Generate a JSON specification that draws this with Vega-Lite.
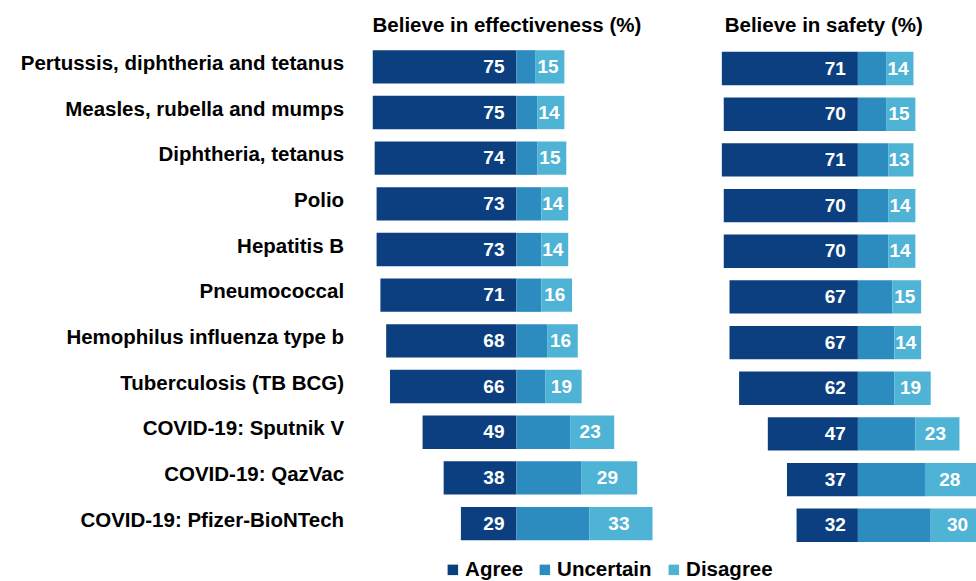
{
  "$schema": "https://vega.github.io/schema/vega-lite/v6.json",
  "padding": {"left": 19.6, "top": 16, "right": 0, "bottom": 0},
  "background": "white",
  "config": {"view": {"stroke": null}, "font": "Liberation Sans", "concat": {"spacing": 44}},
  "spacing": 44,
  "datasets": {
    "survey": [
      {"measure": "Effectiveness", "vaccine": "Pertussis, diphtheria and tetanus", "response": "Agree", "value": 75},
      {"measure": "Effectiveness", "vaccine": "Pertussis, diphtheria and tetanus", "response": "Uncertain", "value": 10},
      {"measure": "Effectiveness", "vaccine": "Pertussis, diphtheria and tetanus", "response": "Disagree", "value": 15},
      {"measure": "Effectiveness", "vaccine": "Measles, rubella and mumps", "response": "Agree", "value": 75},
      {"measure": "Effectiveness", "vaccine": "Measles, rubella and mumps", "response": "Uncertain", "value": 11},
      {"measure": "Effectiveness", "vaccine": "Measles, rubella and mumps", "response": "Disagree", "value": 14},
      {"measure": "Effectiveness", "vaccine": "Diphtheria, tetanus", "response": "Agree", "value": 74},
      {"measure": "Effectiveness", "vaccine": "Diphtheria, tetanus", "response": "Uncertain", "value": 11},
      {"measure": "Effectiveness", "vaccine": "Diphtheria, tetanus", "response": "Disagree", "value": 15},
      {"measure": "Effectiveness", "vaccine": "Polio", "response": "Agree", "value": 73},
      {"measure": "Effectiveness", "vaccine": "Polio", "response": "Uncertain", "value": 13},
      {"measure": "Effectiveness", "vaccine": "Polio", "response": "Disagree", "value": 14},
      {"measure": "Effectiveness", "vaccine": "Hepatitis B", "response": "Agree", "value": 73},
      {"measure": "Effectiveness", "vaccine": "Hepatitis B", "response": "Uncertain", "value": 13},
      {"measure": "Effectiveness", "vaccine": "Hepatitis B", "response": "Disagree", "value": 14},
      {"measure": "Effectiveness", "vaccine": "Pneumococcal", "response": "Agree", "value": 71},
      {"measure": "Effectiveness", "vaccine": "Pneumococcal", "response": "Uncertain", "value": 13},
      {"measure": "Effectiveness", "vaccine": "Pneumococcal", "response": "Disagree", "value": 16},
      {"measure": "Effectiveness", "vaccine": "Hemophilus influenza type b", "response": "Agree", "value": 68},
      {"measure": "Effectiveness", "vaccine": "Hemophilus influenza type b", "response": "Uncertain", "value": 16},
      {"measure": "Effectiveness", "vaccine": "Hemophilus influenza type b", "response": "Disagree", "value": 16},
      {"measure": "Effectiveness", "vaccine": "Tuberculosis (TB BCG)", "response": "Agree", "value": 66},
      {"measure": "Effectiveness", "vaccine": "Tuberculosis (TB BCG)", "response": "Uncertain", "value": 15},
      {"measure": "Effectiveness", "vaccine": "Tuberculosis (TB BCG)", "response": "Disagree", "value": 19},
      {"measure": "Effectiveness", "vaccine": "COVID-19: Sputnik V", "response": "Agree", "value": 49},
      {"measure": "Effectiveness", "vaccine": "COVID-19: Sputnik V", "response": "Uncertain", "value": 28},
      {"measure": "Effectiveness", "vaccine": "COVID-19: Sputnik V", "response": "Disagree", "value": 23},
      {"measure": "Effectiveness", "vaccine": "COVID-19: QazVac", "response": "Agree", "value": 38},
      {"measure": "Effectiveness", "vaccine": "COVID-19: QazVac", "response": "Uncertain", "value": 34},
      {"measure": "Effectiveness", "vaccine": "COVID-19: QazVac", "response": "Disagree", "value": 29},
      {"measure": "Effectiveness", "vaccine": "COVID-19: Pfizer-BioNTech", "response": "Agree", "value": 29},
      {"measure": "Effectiveness", "vaccine": "COVID-19: Pfizer-BioNTech", "response": "Uncertain", "value": 38},
      {"measure": "Effectiveness", "vaccine": "COVID-19: Pfizer-BioNTech", "response": "Disagree", "value": 33},
      {"measure": "Safety", "vaccine": "Pertussis, diphtheria and tetanus", "response": "Agree", "value": 71},
      {"measure": "Safety", "vaccine": "Pertussis, diphtheria and tetanus", "response": "Uncertain", "value": 15},
      {"measure": "Safety", "vaccine": "Pertussis, diphtheria and tetanus", "response": "Disagree", "value": 14},
      {"measure": "Safety", "vaccine": "Measles, rubella and mumps", "response": "Agree", "value": 70},
      {"measure": "Safety", "vaccine": "Measles, rubella and mumps", "response": "Uncertain", "value": 15},
      {"measure": "Safety", "vaccine": "Measles, rubella and mumps", "response": "Disagree", "value": 15},
      {"measure": "Safety", "vaccine": "Diphtheria, tetanus", "response": "Agree", "value": 71},
      {"measure": "Safety", "vaccine": "Diphtheria, tetanus", "response": "Uncertain", "value": 16},
      {"measure": "Safety", "vaccine": "Diphtheria, tetanus", "response": "Disagree", "value": 13},
      {"measure": "Safety", "vaccine": "Polio", "response": "Agree", "value": 70},
      {"measure": "Safety", "vaccine": "Polio", "response": "Uncertain", "value": 16},
      {"measure": "Safety", "vaccine": "Polio", "response": "Disagree", "value": 14},
      {"measure": "Safety", "vaccine": "Hepatitis B", "response": "Agree", "value": 70},
      {"measure": "Safety", "vaccine": "Hepatitis B", "response": "Uncertain", "value": 16},
      {"measure": "Safety", "vaccine": "Hepatitis B", "response": "Disagree", "value": 14},
      {"measure": "Safety", "vaccine": "Pneumococcal", "response": "Agree", "value": 67},
      {"measure": "Safety", "vaccine": "Pneumococcal", "response": "Uncertain", "value": 18},
      {"measure": "Safety", "vaccine": "Pneumococcal", "response": "Disagree", "value": 15},
      {"measure": "Safety", "vaccine": "Hemophilus influenza type b", "response": "Agree", "value": 67},
      {"measure": "Safety", "vaccine": "Hemophilus influenza type b", "response": "Uncertain", "value": 19},
      {"measure": "Safety", "vaccine": "Hemophilus influenza type b", "response": "Disagree", "value": 14},
      {"measure": "Safety", "vaccine": "Tuberculosis (TB BCG)", "response": "Agree", "value": 62},
      {"measure": "Safety", "vaccine": "Tuberculosis (TB BCG)", "response": "Uncertain", "value": 19},
      {"measure": "Safety", "vaccine": "Tuberculosis (TB BCG)", "response": "Disagree", "value": 19},
      {"measure": "Safety", "vaccine": "COVID-19: Sputnik V", "response": "Agree", "value": 47},
      {"measure": "Safety", "vaccine": "COVID-19: Sputnik V", "response": "Uncertain", "value": 30},
      {"measure": "Safety", "vaccine": "COVID-19: Sputnik V", "response": "Disagree", "value": 23},
      {"measure": "Safety", "vaccine": "COVID-19: QazVac", "response": "Agree", "value": 37},
      {"measure": "Safety", "vaccine": "COVID-19: QazVac", "response": "Uncertain", "value": 35},
      {"measure": "Safety", "vaccine": "COVID-19: QazVac", "response": "Disagree", "value": 28},
      {"measure": "Safety", "vaccine": "COVID-19: Pfizer-BioNTech", "response": "Agree", "value": 32},
      {"measure": "Safety", "vaccine": "COVID-19: Pfizer-BioNTech", "response": "Uncertain", "value": 38},
      {"measure": "Safety", "vaccine": "COVID-19: Pfizer-BioNTech", "response": "Disagree", "value": 30}
    ]
  },
  "data": {"name": "survey"},
  "hconcat": [
    {
      "width": 306.6,
      "height": 502.4,
      "title": {"text": "Believe in effectiveness (%)", "fontSize": 20.5, "fontWeight": "bold", "color": "black", "offset": 7, "anchor": "middle"},
      "transform": [{"filter": "datum.measure === 'Effectiveness'"}],
      "encoding": {
        "y": {
          "field": "vaccine", "type": "nominal",
          "sort": ["Pertussis, diphtheria and tetanus", "Measles, rubella and mumps", "Diphtheria, tetanus", "Polio", "Hepatitis B", "Pneumococcal", "Hemophilus influenza type b", "Tuberculosis (TB BCG)", "COVID-19: Sputnik V", "COVID-19: QazVac", "COVID-19: Pfizer-BioNTech"],
          "scale": {"paddingInner": 0.27, "paddingOuter": 0.135},
          "axis": {"title": null, "domain": false, "ticks": false, "labelFontSize": 20.5, "labelFontWeight": "bold", "labelColor": "black", "labelPadding": 10, "labelLimit": 400, "labelOffset": -3}
        }
      },
      "layer": [
        {
          "transform": [{"filter": "datum.response === 'Agree'"}],
          "mark": {"type": "bar"},
          "encoding": {
            "x": {"field": "value", "type": "quantitative", "scale": {"domain": [-75, 85], "reverse": true, "nice": false, "zero": false}, "axis": null},
            "color": {"field": "response", "type": "nominal", "scale": {"domain": ["Agree", "Uncertain", "Disagree"], "range": ["#0b3f80", "#2c8cbf", "#4fb3d6"]},
              "legend": {"orient": "none", "legendX": 89, "legendY": 515.5, "direction": "horizontal", "title": null, "symbolType": "square", "symbolSize": 110, "symbolStrokeWidth": 0, "labelFontSize": 20.5, "labelFontWeight": "bold", "labelColor": "black", "labelOffset": 2, "columnPadding": 11}}
          }
        },
        {
          "transform": [{"filter": "datum.response === 'Agree'"}],
          "mark": {"type": "text", "align": "right", "dx": -12, "baseline": "middle", "fontSize": 19, "fontWeight": "bold", "color": "white"},
          "encoding": {
            "x": {"datum": 0, "type": "quantitative", "scale": {"domain": [-85, 75], "nice": false}, "axis": null},
            "text": {"field": "value", "type": "quantitative"}
          }
        },
        {
          "transform": [{"filter": "datum.response !== 'Agree'"}],
          "mark": {"type": "bar"},
          "encoding": {
            "x": {"field": "value", "type": "quantitative", "stack": "zero", "scale": {"domain": [-85, 75], "nice": false}, "axis": null},
            "color": {"field": "response", "type": "nominal", "scale": {"domain": ["Agree", "Uncertain", "Disagree"], "range": ["#0b3f80", "#2c8cbf", "#4fb3d6"]}},
            "order": {"field": "response", "sort": "descending"}
          }
        },
        {
          "transform": [{"filter": "datum.response !== 'Agree'"}],
          "mark": {"type": "text", "align": "center", "baseline": "middle", "dx": -2, "fontSize": 19, "fontWeight": "bold", "color": "white"},
          "encoding": {
            "x": {"field": "value", "type": "quantitative", "stack": "zero", "bandPosition": 0.5, "scale": {"domain": [-85, 75], "nice": false}, "axis": null},
            "detail": {"field": "response", "type": "nominal"},
            "order": {"field": "response", "sort": "descending"},
            "text": {"condition": {"test": "datum.response === 'Disagree'", "field": "value", "type": "quantitative"}, "value": ""}
          }
        }
      ],
      "resolve": {"scale": {"x": "independent"}}
    },
    {
      "width": 272.3,
      "height": 502.4,
      "title": {"text": "Believe in safety (%)", "fontSize": 20.5, "fontWeight": "bold", "color": "black", "offset": 7, "anchor": "middle", "dx": -17},
      "transform": [{"filter": "datum.measure === 'Safety'"}],
      "encoding": {
        "y": {
          "field": "vaccine", "type": "nominal",
          "sort": ["Pertussis, diphtheria and tetanus", "Measles, rubella and mumps", "Diphtheria, tetanus", "Polio", "Hepatitis B", "Pneumococcal", "Hemophilus influenza type b", "Tuberculosis (TB BCG)", "COVID-19: Sputnik V", "COVID-19: QazVac", "COVID-19: Pfizer-BioNTech"],
          "scale": {"paddingInner": 0.27, "paddingOuter": 0.135},
          "axis": null
        }
      },
      "layer": [
        {
          "transform": [{"filter": "datum.response === 'Agree'"}],
          "mark": {"type": "bar", "yOffset": 1.7},
          "encoding": {
            "x": {"field": "value", "type": "quantitative", "scale": {"domain": [-62.1, 80], "reverse": true, "nice": false, "zero": false}, "axis": null},
            "color": {"field": "response", "type": "nominal", "scale": {"domain": ["Agree", "Uncertain", "Disagree"], "range": ["#0b3f80", "#2c8cbf", "#4fb3d6"]}}
          }
        },
        {
          "transform": [{"filter": "datum.response === 'Agree'"}],
          "mark": {"type": "text", "align": "right", "dx": -12, "yOffset": 1.7, "baseline": "middle", "fontSize": 19, "fontWeight": "bold", "color": "white"},
          "encoding": {
            "x": {"datum": 0, "type": "quantitative", "scale": {"domain": [-80, 62.1], "nice": false}, "axis": null},
            "text": {"field": "value", "type": "quantitative"}
          }
        },
        {
          "transform": [{"filter": "datum.response !== 'Agree'"}],
          "mark": {"type": "bar", "clip": true, "yOffset": 1.7},
          "encoding": {
            "x": {"field": "value", "type": "quantitative", "stack": "zero", "scale": {"domain": [-80, 62.1], "nice": false}, "axis": null},
            "color": {"field": "response", "type": "nominal", "scale": {"domain": ["Agree", "Uncertain", "Disagree"], "range": ["#0b3f80", "#2c8cbf", "#4fb3d6"]}},
            "order": {"field": "response", "sort": "descending"}
          }
        },
        {
          "transform": [{"filter": "datum.response !== 'Agree'"}],
          "mark": {"type": "text", "align": "center", "baseline": "middle", "dx": -2, "yOffset": 1.7, "fontSize": 19, "fontWeight": "bold", "color": "white"},
          "encoding": {
            "x": {"field": "value", "type": "quantitative", "stack": "zero", "bandPosition": 0.5, "scale": {"domain": [-80, 62.1], "nice": false}, "axis": null},
            "detail": {"field": "response", "type": "nominal"},
            "order": {"field": "response", "sort": "descending"},
            "text": {"condition": {"test": "datum.response === 'Disagree'", "field": "value", "type": "quantitative"}, "value": ""}
          }
        }
      ],
      "resolve": {"scale": {"x": "independent"}}
    }
  ],
  "resolve": {"scale": {"color": "shared"}, "legend": {"color": "shared"}}
}
